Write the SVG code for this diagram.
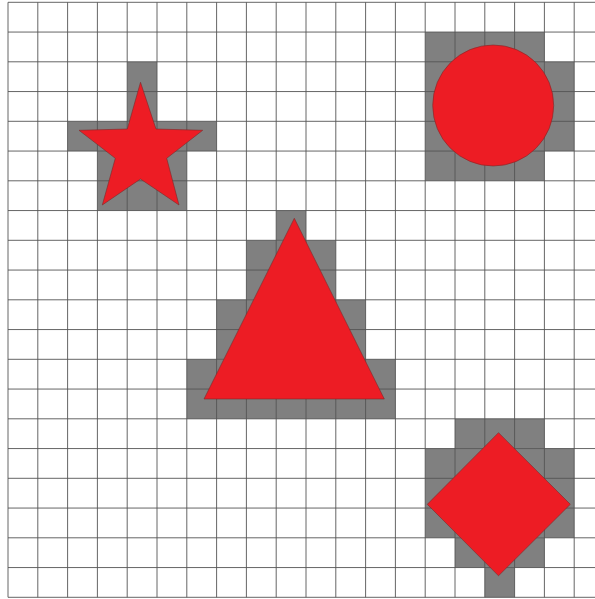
<svg xmlns="http://www.w3.org/2000/svg" width="595" height="599" viewBox="0 0 595 599">
<style>
.cell{fill:#808080}
.grid{fill:none;stroke:#555;stroke-width:0.9}
.shape{fill:#ed1c24;stroke:#7a2a2a;stroke-width:0.6}
</style>
<rect width="595" height="599" fill="#fff"/>
<g id="cells">
<rect class="cell" x="127.2" y="61.8" width="29.8" height="59.5"/>
<rect class="cell" x="67.6" y="121.3" width="149" height="29.75"/>
<rect class="cell" x="97.4" y="151.05" width="89.4" height="59.5"/>
<rect class="cell" x="425.2" y="32.05" width="119.2" height="148.75"/>
<rect class="cell" x="544.4" y="61.8" width="29.8" height="89.25"/>
<rect class="cell" x="276.2" y="210.55" width="29.8" height="29.75"/>
<rect class="cell" x="246.4" y="240.3" width="89.4" height="59.5"/>
<rect class="cell" x="216.6" y="299.8" width="149" height="59.5"/>
<rect class="cell" x="186.8" y="359.3" width="208.6" height="59.5"/>
<rect class="cell" x="455" y="418.8" width="89.4" height="29.75"/>
<rect class="cell" x="425.2" y="448.55" width="149" height="89.25"/>
<rect class="cell" x="455" y="537.8" width="89.4" height="29.75"/>
<rect class="cell" x="484.8" y="567.55" width="29.8" height="29.75"/>
</g>
<g id="grid">
<path class="grid" d="M8,2.3V597.3M37.8,2.3V597.3M67.6,2.3V597.3M97.4,2.3V597.3M127.2,2.3V597.3M157,2.3V597.3M186.8,2.3V597.3M216.6,2.3V597.3M246.4,2.3V597.3M276.2,2.3V597.3M306,2.3V597.3M335.8,2.3V597.3M365.6,2.3V597.3M395.4,2.3V597.3M425.2,2.3V597.3M455,2.3V597.3M484.8,2.3V597.3M514.6,2.3V597.3M544.4,2.3V597.3M574.2,2.3V597.3
M8,2.3H595M8,32.05H595M8,61.8H595M8,91.55H595M8,121.3H595M8,151.05H595M8,180.8H595M8,210.55H595M8,240.3H595M8,270.05H595M8,299.8H595M8,329.55H595M8,359.3H595M8,389.05H595M8,418.8H595M8,448.55H595M8,478.3H595M8,508.05H595M8,537.8H595M8,567.55H595M8,597.3H595"/>
</g>
<g id="star">
<polygon class="shape" points="140.5,82.3 156,129 202.7,130.3 166.7,158.3 179,205 140.5,179 102.3,205 115.3,158.3 79,130.3 127.3,129"/>
</g>
<g id="circle">
<circle class="shape" cx="493.2" cy="105.5" r="60.5"/>
</g>
<g id="triangle">
<polygon class="shape" points="294.3,218.3 384.3,399 204,399"/>
</g>
<g id="diamond">
<polygon class="shape" points="498.5,432.7 570.3,504.3 498.5,575.8 427.3,504.3"/>
</g>
</svg>
